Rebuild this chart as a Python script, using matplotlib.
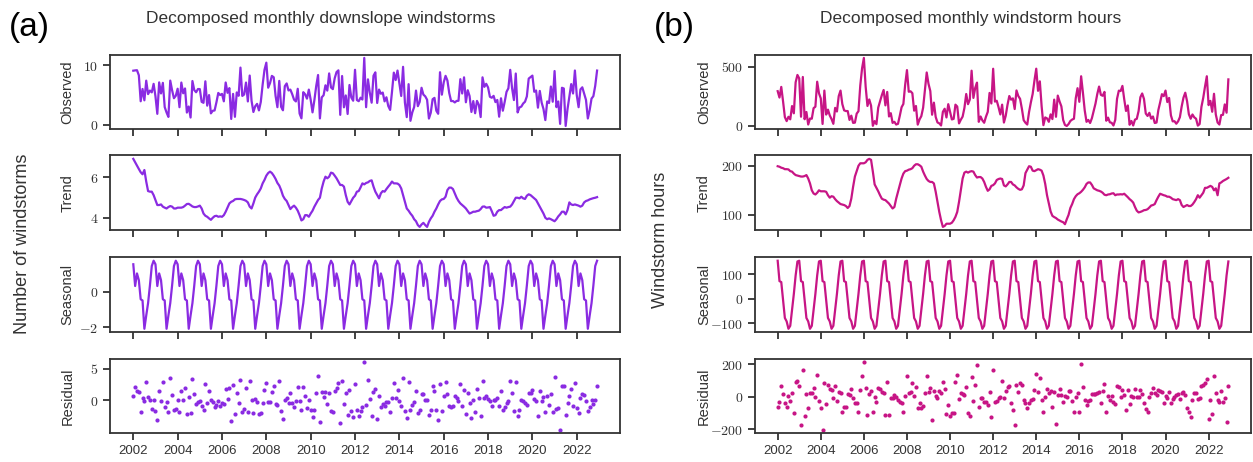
import numpy as np
import matplotlib
matplotlib.use("Agg")
import matplotlib.pyplot as plt
from matplotlib.ticker import FuncFormatter

# monthly values, Jan 2002 .. Dec 2022 (one row per year)
years = list(range(2002, 2023))

seasonal_a = [1.55, 0.32, 1.03, 0.65, -0.43, -0.50, -2.10, -1.35, -0.65, 0.35, 1.45, 1.75]
seasonal_b = [155, 72, 68, -5, -78, -92, -122, -110, -45, 20, 95, 152]

trend_a = [
  6.91, 6.74, 6.58, 6.41, 6.25, 6.15, 6.36, 5.79, 5.32, 5.29, 5.29, 5.12,
  4.88, 4.63, 4.63, 4.66, 4.55, 4.50, 4.46, 4.53, 4.58, 4.55, 4.46, 4.46,
  4.50, 4.50, 4.50, 4.53, 4.60, 4.68, 4.69, 4.63, 4.56, 4.53, 4.53, 4.56,
  4.60, 4.46, 4.21, 4.10, 4.05, 3.97, 3.90, 4.00, 4.08, 4.10, 4.05, 4.07,
  4.05, 4.13, 4.30, 4.50, 4.71, 4.79, 4.83, 4.91, 4.93, 4.93, 4.93, 4.91,
  4.88, 4.84, 4.76, 4.55, 4.46, 4.71, 5.00, 5.16, 5.29, 5.45, 5.70, 5.87,
  6.08, 6.21, 6.28, 6.21, 6.08, 5.92, 5.72, 5.59, 5.37, 5.09, 4.93, 4.83,
  4.63, 4.43, 4.53, 4.60, 4.50, 4.35, 4.13, 3.87, 3.93, 4.13, 4.13, 4.05,
  4.21, 4.35, 4.55, 4.71, 4.88, 4.99, 5.45, 5.79, 6.03, 5.95, 6.03, 6.23,
  6.20, 6.08, 5.95, 5.79, 5.62, 5.62, 5.54, 5.12, 4.79, 4.66, 4.83, 4.99,
  5.09, 5.29, 5.32, 5.50, 5.70, 5.65, 5.72, 5.75, 5.82, 5.85, 5.54, 5.29,
  5.12, 4.96, 5.21, 5.32, 5.29, 5.42, 5.54, 5.65, 5.79, 5.70, 5.70, 5.69,
  5.62, 5.45, 5.12, 4.79, 4.46, 4.35, 4.21, 4.10, 3.93, 3.83, 3.64, 3.55,
  3.67, 3.75, 3.64, 3.55, 3.80, 3.97, 4.10, 4.30, 4.46, 4.66, 4.83, 4.91,
  4.93, 5.04, 5.37, 5.49, 5.49, 5.42, 5.21, 4.99, 4.83, 4.71, 4.63, 4.55,
  4.46, 4.33, 4.21, 4.25, 4.30, 4.30, 4.33, 4.35, 4.43, 4.55, 4.56, 4.50,
  4.51, 4.53, 4.33, 4.10, 4.13, 4.30, 4.38, 4.38, 4.46, 4.53, 4.50, 4.53,
  4.55, 4.66, 4.83, 4.99, 4.99, 4.96, 5.04, 4.96, 4.93, 5.09, 5.16, 5.12,
  5.04, 4.96, 4.88, 4.71, 4.55, 4.38, 4.21, 4.00, 3.93, 3.97, 3.93, 3.88,
  3.83, 3.93, 4.07, 4.17, 4.30, 4.30, 4.17, 4.38, 4.76, 4.66, 4.63, 4.66,
  4.63, 4.60, 4.55, 4.60, 4.76, 4.83, 4.86, 4.91, 4.94, 4.97, 4.99, 5.02,
]

resid_a = [
  0.63, 2.08, 1.56, 1.25, -1.88, 0.36, -0.16, 2.97, 0.47, 0.10, -1.30, 0.00,
  -1.67, -3.13, 1.46, -0.05, 2.92, -1.04, -0.31, -1.88, 3.49, 0.89, -1.46, -1.35,
  0.00, -1.88, 1.56, 0.10, 1.93, -2.14, 0.47, -2.08, 3.44, 0.94, -0.52, -0.31,
  -0.16, -0.94, -1.56, 2.55, -0.42, 1.51, 0.10, -0.31, -1.04, -0.68, -0.16, -0.83,
  -0.42, -0.52, 1.77, 0.21, 1.88, -3.33, 2.45, -2.24, 1.15, -0.42, 3.23, -1.82,
  -1.35, 1.93, -1.88, 3.07, 0.00, -2.08, 0.21, -0.31, -2.24, -1.98, -0.42, 1.61,
  2.81, -0.31, -0.31, 1.35, 2.34, -0.57, -0.68, 3.13, -1.72, -3.02, 0.10, 0.36,
  -0.42, 1.15, -0.42, -1.04, -0.16, 2.19, -0.16, -1.46, 2.19, 0.63, -1.20, 0.10,
  -1.56, -2.60, -1.46, 1.15, 3.91, -3.44, 1.25, 0.52, 1.25, -0.57, 1.15, -1.72,
  -1.77, 1.41, 1.88, 2.71, -3.54, 3.07, -0.52, 1.15, -2.34, 1.67, -1.72, -2.71,
  2.60, -1.46, -2.40, -1.61, -1.04, 6.09, -0.68, 3.23, 0.21, -2.50, 1.25, 1.77,
  -3.02, 0.63, -1.04, -0.57, -0.94, -0.31, -0.31, -1.82, 0.36, 2.71, 0.36, 1.67,
  -0.16, -0.94, 3.59, -1.72, -2.76, 2.97, -1.46, -0.68, -0.31, 1.56, -1.98, -1.46,
  0.99, 0.99, 0.10, 0.00, -2.34, -1.46, 2.29, 1.56, -1.46, -3.18, 2.55, -1.61,
  0.63, 2.86, 1.04, -0.83, -1.09, -0.94, 0.63, 0.36, -0.16, 2.60, -0.83, 1.67,
  -2.24, 1.15, -0.42, -2.76, 0.10, -1.88, 1.77, 0.36, -2.50, 3.07, 0.36, 0.63,
  0.21, -0.16, -0.83, 0.10, 0.10, 0.36, -0.94, 1.41, -1.46, -1.04, -0.42, -0.16,
  3.13, 1.15, -1.72, 2.97, -2.50, -1.56, 0.10, -0.05, -0.42, -0.68, 1.15, 1.15,
  1.67, 0.26, -0.16, -2.50, 1.56, -0.16, 0.52, -1.88, 0.63, -0.68, 1.04, -1.77,
  3.65, -1.30, -1.20, -4.69, 2.34, 2.29, -2.29, -0.42, 0.63, 1.82, -0.83, 2.71,
  -1.20, -1.98, 0.36, 1.04, 0.89, -0.16, -1.72, -1.09, 0.10, -0.52, 0.10, 2.34,
]

trend_b = [
  199, 198, 196, 195, 193, 193, 192.5, 189, 188, 184, 181, 180,
  179, 178, 178, 179, 181, 174, 164, 150, 143.5, 141.5, 145, 150,
  148, 148, 148, 147, 140, 135, 138, 137, 132, 128, 125, 122,
  121, 120, 118, 114, 118, 133, 157, 178, 189, 200, 205, 205,
  205, 207, 212, 214, 212, 188, 162, 155, 148, 140, 133, 131,
  130, 126.5, 123, 118, 113, 116, 133, 147, 160.5, 174, 184, 189,
  190, 192, 193, 195, 200, 203, 203, 201, 198, 188, 180, 173,
  169, 167, 167, 164, 147, 126.5, 106, 89, 75.5, 77.5, 82, 82,
  82, 84, 89, 96, 106, 126.5, 150, 174, 186, 188, 186, 188,
  189, 188, 181, 176, 177, 177, 174, 167, 157, 149, 152, 159,
  160.5, 164, 171, 173, 174, 173, 160, 158, 162, 167, 167, 162,
  160, 156, 153, 151, 152, 160, 185, 192, 199, 198, 190, 189,
  191, 193, 192, 190, 180, 163, 140, 124, 107, 98, 95.5, 93.5,
  90.5, 88.5, 86.5, 85, 81, 91, 100, 114, 122, 132, 138, 142,
  144, 147, 151, 156, 163, 166, 166, 161, 154, 152, 150, 149,
  147.5, 145, 141, 140, 141.5, 142, 143.5, 144, 140, 141.5, 141.5, 142,
  141.5, 143, 139.5, 136, 132, 129, 125, 116, 108.5, 105, 106, 107.5,
  109.5, 110, 111.5, 115, 119, 120, 122, 130, 137, 143, 141.5, 140,
  139, 137, 137, 135, 132, 131, 130, 132, 130, 120, 116, 118,
  120, 118, 118, 121, 126, 132, 140, 135, 140, 145, 155, 155,
  157, 159, 157, 150, 154, 140, 164, 166, 169, 171, 173, 175.5,
]

resid_b = [
  -61, -31, 65, 16, -41, -61, 6, -24, 24, -98, 92, 98,
  67, -173, 167, -118, 14, -71, 20, 20, 51, 0, 133, -27,
  -71, -204, 82, -47, 75, 45, 41, -10, 65, -27, 31, 24,
  -92, -61, -61, 16, 10, 45, -10, -41, -41, -96, 41, 129,
  214, 51, -112, 14, 37, -96, 0, -31, 51, 45, 31, 20,
  -112, 88, -112, -6, -10, 10, 0, -20, -31, -37, -94, 6,
  126, 24, 31, 86, 6, 57, -71, -37, -71, -55, 24, 126,
  31, 55, -141, 37, 6, -6, 37, 24, 88, 47, -106, -51,
  -118, -102, -98, 88, 135, -14, 24, 14, 10, 61, -98, -118,
  122, -24, 71, 194, -65, -6, -6, -31, -35, -51, 31, -122,
  167, -31, -27, -10, 0, 98, -10, 37, 61, 65, -41, -82,
  -173, 71, 31, 82, 71, -20, -37, -71, -37, -20, -16, 41,
  137, 31, 116, -20, -96, 0, 45, 20, 35, -61, 31, -169,
  10, 45, 10, -31, 4, 0, 37, 37, -24, -92, 0, 24,
  -96, 200, 61, -20, -51, -24, -20, 14, 16, 16, 24, 31,
  -41, 37, 78, -92, 6, -20, 4, -31, -45, 67, 61, 0,
  41, 10, -82, 41, -45, 4, 0, 47, -4, 0, 41, 14,
  -37, -78, -96, 0, 20, 51, 24, 8, 41, 35, 31, -41,
  4, -8, 31, -41, -16, 0, 10, 16, -12, 24, 27, 10,
  -67, -92, -126, -20, 24, 20, -16, -10, 65, 71, 82, 112,
  -137, -20, -106, 126, 20, -20, -31, 35, -31, -10, -157, 65,
]

color_a = "#8a2be2"
color_b = "#c71585"
text_color = "#333333"

plt.rcParams["font.family"] = ["Liberation Sans", "DejaVu Sans"]
plt.rcParams["mathtext.fontset"] = "cm"
plt.rcParams["axes.edgecolor"] = text_color
plt.rcParams["axes.linewidth"] = 1.3
plt.rcParams["xtick.color"] = text_color
plt.rcParams["ytick.color"] = text_color
plt.rcParams["xtick.major.size"] = 5
plt.rcParams["ytick.major.size"] = 5
plt.rcParams["xtick.major.width"] = 1.3
plt.rcParams["ytick.major.width"] = 1.3
plt.rcParams["xtick.labelsize"] = 9.5
plt.rcParams["ytick.labelsize"] = 10


def draw_panel(fig, left, width, trend, seasonal, resid, color, yticks, label_x):
  x = np.array([y + m / 12 for y in years for m in range(12)])
  trend = np.array(trend)
  seas = np.tile(seasonal, len(years))
  resid = np.array(resid)
  observed = trend + seas + resid

  bottoms = [0.720, 0.5015, 0.281, 0.062]
  height = 0.162
  names = ["Observed", "Trend", "Seasonal", "Residual"]
  series = [observed, trend, seas, resid]
  yfmt = FuncFormatter(lambda v, p: f"${v:g}$")

  for i in range(4):
    ax = fig.add_axes([left, bottoms[i], width, height])
    if i < 3:
      ax.plot(x, series[i], color=color, lw=1.6)
    else:
      ax.scatter(x, series[i], color=color, s=9, linewidths=0)
    ax.set_yticks(yticks[i])
    ax.yaxis.set_major_formatter(yfmt)
    ax.set_xticks(range(2002, 2023, 2))
    ax.set_xlim(2002 - 1.05, 2022.917 + 1.05)
    ax.set_ylabel(names[i], fontsize=10.5, color=text_color)
    ax.yaxis.set_label_coords(label_x, 0.5)
    if i < 3:
      ax.tick_params(axis="x", labelbottom=False)
    for lab in ax.get_xticklabels() + ax.get_yticklabels():
      lab.set_color(text_color)


fig = plt.figure(figsize=(12.53, 4.62), dpi=100)

draw_panel(fig, 0.0878, 0.4073, trend_a, seasonal_a, resid_a, color_a,
           [[0, 10], [4, 6], [-2, 0], [0, 5]], -0.07)
draw_panel(fig, 0.6026, 0.3958, trend_b, seasonal_b, resid_b, color_b,
           [[0, 500], [100, 200], [-100, 0, 100], [-200, 0, 200]], -0.089)

fig.text(0.256, 0.961, "Decomposed monthly downslope windstorms", ha="center", va="center",
         fontsize=12.5, color=text_color)
fig.text(0.775, 0.961, "Decomposed monthly windstorm hours", ha="center", va="center",
         fontsize=12.5, color=text_color)
fig.text(0.007, 0.94, "(a)", ha="left", va="center", fontsize=24)
fig.text(0.522, 0.94, "(b)", ha="left", va="center", fontsize=24)
fig.text(0.0176, 0.472, "Number of windstorms", rotation=90, ha="center", va="center",
         fontsize=13, color=text_color)
fig.text(0.527, 0.48, "Windstorm hours", rotation=90, ha="center", va="center",
         fontsize=13, color=text_color)

fig.savefig("out.png", dpi=100)
